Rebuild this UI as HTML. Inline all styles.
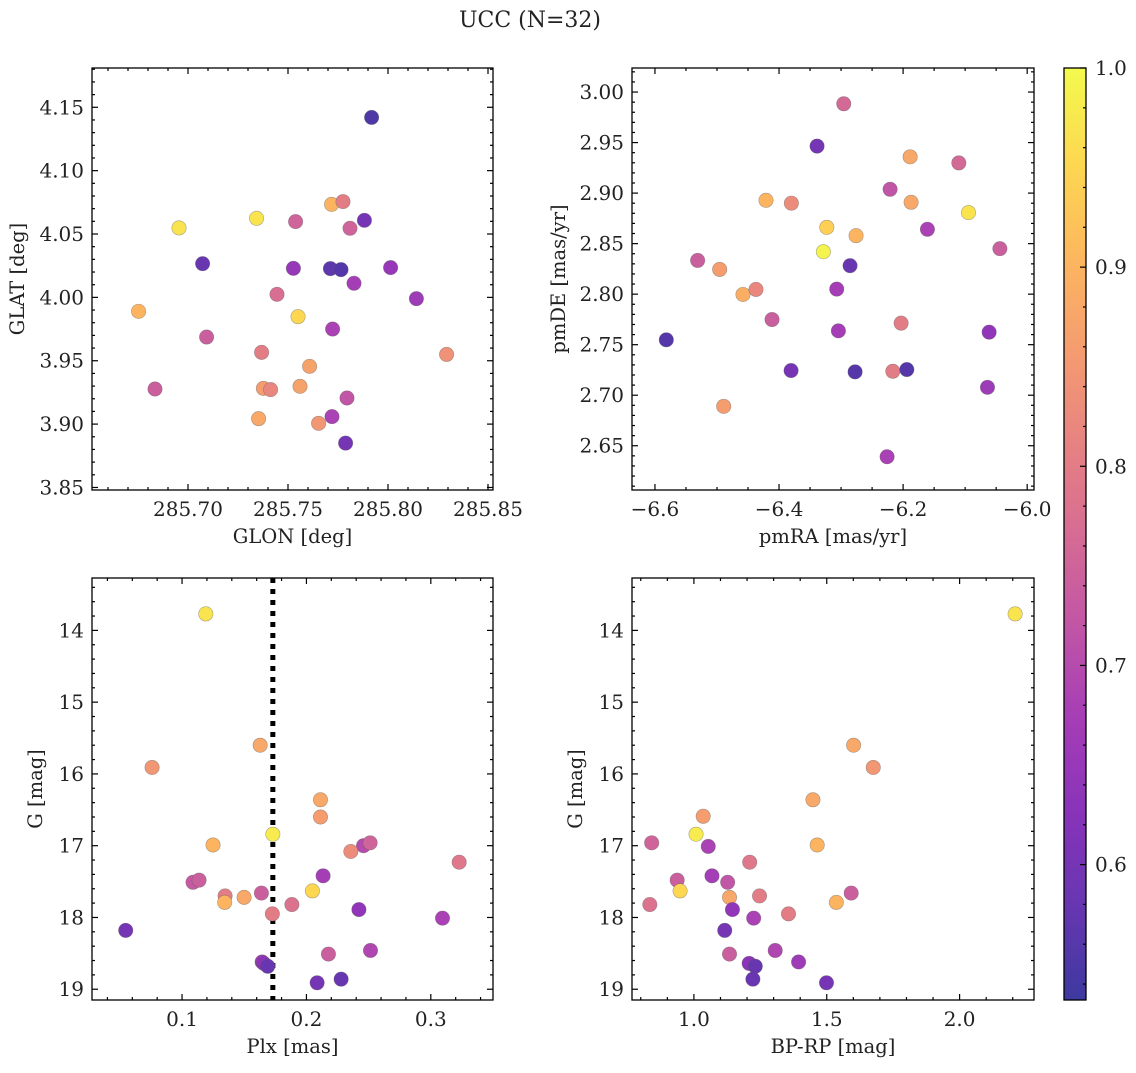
<!DOCTYPE html>
<html><head><meta charset="utf-8"><style>
body{margin:0;background:#fff;}
svg text{font-family:"DejaVu Serif","Liberation Serif",serif;fill:#222;}
</style></head><body>
<svg id="fig" xmlns="http://www.w3.org/2000/svg" width="1136" height="1068" viewBox="0 0 1136 1068">
<defs><linearGradient id="cbgrad" x1="0" y1="1" x2="0" y2="0"></linearGradient></defs>
<text x="530" y="27" text-anchor="middle" font-size="22">UCC (N=32)</text>
</svg>
<script>
// Panel 1: GLON vs GLAT
const glon1=[285.7918,285.7718,285.7775,285.7343,285.7538,285.6955,285.7882,285.781,285.7073,285.7527,285.7712,285.7765,285.8013,285.783,285.7445,285.8142,285.6753,285.755,285.7723,285.7093,285.7368,285.8293,285.7608,285.6835,285.7377,285.7413,285.756,285.7795,285.7353,285.772,285.7653,285.7788];
const glat1=[4.142,4.0734,4.0756,4.0624,4.0598,4.0548,4.0608,4.0545,4.0266,4.0229,4.0227,4.0219,4.0235,4.0111,4.0024,3.999,3.989,3.9848,3.975,3.9687,3.9566,3.955,3.9456,3.9277,3.9282,3.9272,3.9298,3.9206,3.9043,3.9059,3.9006,3.885];
const prob1=[0.55,0.9,0.8,0.97,0.75,0.97,0.6,0.75,0.58,0.65,0.57,0.56,0.65,0.67,0.77,0.66,0.9,0.95,0.68,0.74,0.8,0.84,0.87,0.74,0.86,0.82,0.87,0.72,0.88,0.68,0.85,0.6];
// Panel 2: pmRA vs pmDE
const pmra2=[-6.2957,-6.3387,-6.1887,-6.1102,-6.221,-6.421,-6.3801,-6.1871,-6.0946,-6.323,-6.1608,-6.2758,-6.044,-6.3285,-6.5312,-6.2855,-6.4957,-6.4581,-6.4371,-6.307,-6.4113,-6.2032,-6.3043,-6.0613,-6.5817,-6.3806,-6.2774,-6.2166,-6.194,-6.064,-6.4892,-6.2258];
const pmde2=[2.9884,2.9465,2.9359,2.9299,2.9038,2.8929,2.89,2.8909,2.8807,2.8661,2.8642,2.8579,2.845,2.842,2.8334,2.8282,2.8245,2.7997,2.8047,2.805,2.7749,2.7713,2.7637,2.7624,2.7548,2.7244,2.7231,2.7237,2.7254,2.7078,2.689,2.6391];
const prob2=[0.76,0.6,0.88,0.76,0.72,0.9,0.83,0.88,0.97,0.94,0.68,0.9,0.74,0.99,0.74,0.58,0.86,0.89,0.82,0.67,0.74,0.8,0.67,0.64,0.56,0.6,0.56,0.8,0.56,0.66,0.86,0.68];
// Panel 3: Plx vs G
const plx3=[0.1191,0.1628,0.0759,0.2113,0.2113,0.173,0.1249,0.2459,0.2512,0.2357,0.3228,0.1088,0.1137,0.2134,0.2048,0.1346,0.1343,0.1499,0.1638,0.1883,0.1726,0.2422,0.3094,0.0547,0.2515,0.2177,0.1644,0.1657,0.1689,0.2279,0.2086];
const g3=[13.77,15.60,15.91,16.36,16.60,16.84,16.99,17.0,16.96,17.08,17.23,17.51,17.48,17.42,17.63,17.70,17.79,17.72,17.66,17.82,17.95,17.89,18.01,18.18,18.46,18.51,18.62,18.64,18.68,18.86,18.91];
const prob3=[0.97,0.88,0.85,0.88,0.86,0.98,0.9,0.7,0.75,0.83,0.79,0.73,0.74,0.67,0.95,0.8,0.9,0.88,0.74,0.78,0.8,0.64,0.68,0.6,0.69,0.74,0.66,0.63,0.58,0.58,0.6];
const plxLine=[0.173];
// Panel 4: BP-RP vs G
const bprp4=[2.209,1.601,1.675,1.448,1.035,1.008,0.841,1.464,1.054,1.21,1.068,0.937,1.127,0.948,1.592,1.247,1.134,1.536,0.834,1.145,1.356,1.225,1.116,1.306,1.134,1.394,1.208,1.231,1.222,1.499];
const g4=[13.77,15.60,15.91,16.36,16.59,16.84,16.96,16.99,17.01,17.23,17.42,17.48,17.51,17.63,17.66,17.70,17.72,17.79,17.82,17.89,17.95,18.01,18.18,18.46,18.51,18.62,18.64,18.68,18.86,18.91];
const prob4=[0.97,0.88,0.85,0.88,0.86,0.98,0.75,0.9,0.68,0.79,0.67,0.74,0.72,0.95,0.74,0.8,0.88,0.9,0.78,0.64,0.8,0.68,0.6,0.69,0.74,0.66,0.63,0.58,0.58,0.6];
const cbTicks=[0.6,0.7,0.8,0.9,1.0];

const NS='http://www.w3.org/2000/svg';
const svg=document.getElementById('fig');
const VMIN=0.532,VMAX=1.0,ALPHA=0.8;
const TF=20, LF=19.5;
const plasma=[[13,8,135],[65,4,157],[106,0,168],[143,13,164],[177,42,144],[204,71,120],[225,100,98],[242,132,75],[252,166,54],[252,206,37],[240,249,33]];
function cmap(v){let t=Math.max(0,Math.min(1,(v-VMIN)/(VMAX-VMIN)))*10;let i=Math.min(9,Math.floor(t)),f=t-i;
 const c=plasma[i].map((a,k)=>a+(plasma[i+1][k]-a)*f).map(a=>Math.round(a*ALPHA+255*(1-ALPHA)));return `rgb(${c[0]},${c[1]},${c[2]})`;}
function mk(tag,attrs,parent){const e=document.createElementNS(NS,tag);for(const k in attrs)e.setAttribute(k,attrs[k]);(parent||svg).appendChild(e);return e;}
function fmt(v,d){return (v<0?'\u2212':'')+Math.abs(v).toFixed(d);}

function panel(o){
 const g=mk('g',{});
 
 
 const sx=v=>o.x0+(v-o.xmin)/(o.xmax-o.xmin)*(o.x1-o.x0);
 const sy=o.yinv?(v=>o.y0+(v-o.ymin)/(o.ymax-o.ymin)*(o.y1-o.y0)):(v=>o.y1-(v-o.ymin)/(o.ymax-o.ymin)*(o.y1-o.y0));
 const eps=1e-9;
 for(let v=Math.ceil(o.xmin/o.xminor-eps)*o.xminor;v<=o.xmax+eps;v+=o.xminor){
  const X=sx(v);const maj=Math.abs(v/o.xmajor-Math.round(v/o.xmajor))<1e-4;const L=maj?6:3;
  mk('line',{x1:X,x2:X,y1:o.y1,y2:o.y1-L,stroke:'#000','stroke-width':1.2},g);
  mk('line',{x1:X,x2:X,y1:o.y0,y2:o.y0+L,stroke:'#000','stroke-width':1.2},g);
  if(maj){const t=mk('text',{x:X,y:o.y1+26,'text-anchor':'middle','font-size':TF},g);t.textContent=fmt(v,o.xdec);
   
   }
 }
 for(let v=Math.ceil(o.ymin/o.yminor-eps)*o.yminor;v<=o.ymax+eps;v+=o.yminor){
  const Y=sy(v);const maj=Math.abs(v/o.ymajor-Math.round(v/o.ymajor))<1e-4;const L=maj?6:3;
  mk('line',{x1:o.x0,x2:o.x0+L,y1:Y,y2:Y,stroke:'#000','stroke-width':1.2},g);
  mk('line',{x1:o.x1,x2:o.x1-L,y1:Y,y2:Y,stroke:'#000','stroke-width':1.2},g);
  if(maj){const t=mk('text',{x:o.x0-8,y:Y+7,'text-anchor':'end','font-size':TF},g);t.textContent=fmt(v,o.ydec);
   
   }
 }
 if(o.vline){const X=sx(o.vline);mk('line',{x1:X,x2:X,y1:o.y0,y2:o.y1,stroke:'#000','stroke-width':5,'stroke-dasharray':'5 6'},g);}
 for(let i=0;i<o.xs.length;i++){
  const c=mk('circle',{cx:sx(o.xs[i]),cy:sy(o.ys[i]),r:7.2,fill:cmap(o.cs[i]),stroke:'rgba(90,90,90,0.5)','stroke-width':0.6},g);
  
  
 }
 const fr=mk('rect',{x:o.x0,y:o.y0,width:o.x1-o.x0,height:o.y1-o.y0,fill:'none',stroke:'#000','stroke-width':1.3},g);
 
 
 const xl=mk('text',{x:(o.x0+o.x1)/2,y:o.y1+53,'text-anchor':'middle','font-size':LF},g);xl.textContent=o.xlabel;
 
 
 const ylx=o.ylx,yly=(o.y0+o.y1)/2;
 const yl=mk('text',{x:ylx,y:yly,'text-anchor':'middle','font-size':LF,transform:`rotate(-90 ${ylx} ${yly})`},g);yl.textContent=o.ylabel;
 
 
}
panel({name:'glon-glat-panel',x0:92,x1:493,y0:68,y1:490,xmin:285.652,xmax:285.8525,ymin:3.848,ymax:4.181,xmajor:0.05,xminor:0.01,ymajor:0.05,yminor:0.01,xdec:2,ydec:2,xs:glon1,ys:glat1,cs:prob1,xlabel:'GLON [deg]',ylabel:'GLAT [deg]',ylx:24});
panel({name:'pm-panel',x0:632,x1:1034,y0:68,y1:490,xmin:-6.637,xmax:-5.989,ymin:2.6062,ymax:3.0238,xmajor:0.2,xminor:0.05,ymajor:0.05,yminor:0.01,xdec:1,ydec:2,xs:pmra2,ys:pmde2,cs:prob2,xlabel:'pmRA [mas/yr]',ylabel:'pmDE [mas/yr]',ylx:565});
panel({name:'plx-g-panel',x0:92,x1:493,y0:578,y1:1000,xmin:0.0276,xmax:0.350,ymin:13.27,ymax:19.15,yinv:true,xmajor:0.1,xminor:0.02,ymajor:1,yminor:0.2,xdec:1,ydec:0,xs:plx3,ys:g3,cs:prob3,vline:plxLine[0],xlabel:'Plx [mas]',ylabel:'G [mag]',ylx:42});
panel({name:'cmd-panel',x0:632,x1:1034,y0:578,y1:1000,xmin:0.767,xmax:2.280,ymin:13.27,ymax:19.15,yinv:true,xmajor:0.5,xminor:0.1,ymajor:1,yminor:0.2,xdec:1,ydec:0,xs:bprp4,ys:g4,cs:prob4,xlabel:'BP-RP [mag]',ylabel:'G [mag]',ylx:582});

// colorbar
const grad=document.getElementById('cbgrad');
for(let k=0;k<=20;k++){const v=VMIN+(VMAX-VMIN)*k/20;mk('stop',{offset:(k/20),'stop-color':cmap(v)},grad);}
const cb=mk('g',{});


const CX0=1064,CX1=1086,CY0=68,CY1=1000;
const cy=v=>CY1-(v-VMIN)/(VMAX-VMIN)*(CY1-CY0);
mk('rect',{x:CX0,y:CY0,width:CX1-CX0,height:CY1-CY0,fill:'url(#cbgrad)'},cb);
for(let v=0.54;v<=1.0001;v+=0.02){const Y=cy(v);const maj=Math.abs(v*10-Math.round(v*10))<1e-4;
 mk('line',{x1:CX1,x2:CX1-(maj?6:3),y1:Y,y2:Y,stroke:'#000','stroke-width':1.2},cb);}
cbTicks.forEach(v=>{const t=mk('text',{x:CX1+9,y:cy(v)+7,'font-size':TF},cb);t.textContent=v.toFixed(1);
 
 });
mk('rect',{x:CX0,y:CY0,width:CX1-CX0,height:CY1-CY0,fill:'none',stroke:'#000','stroke-width':1.3},cb);
</script>
</body></html>
